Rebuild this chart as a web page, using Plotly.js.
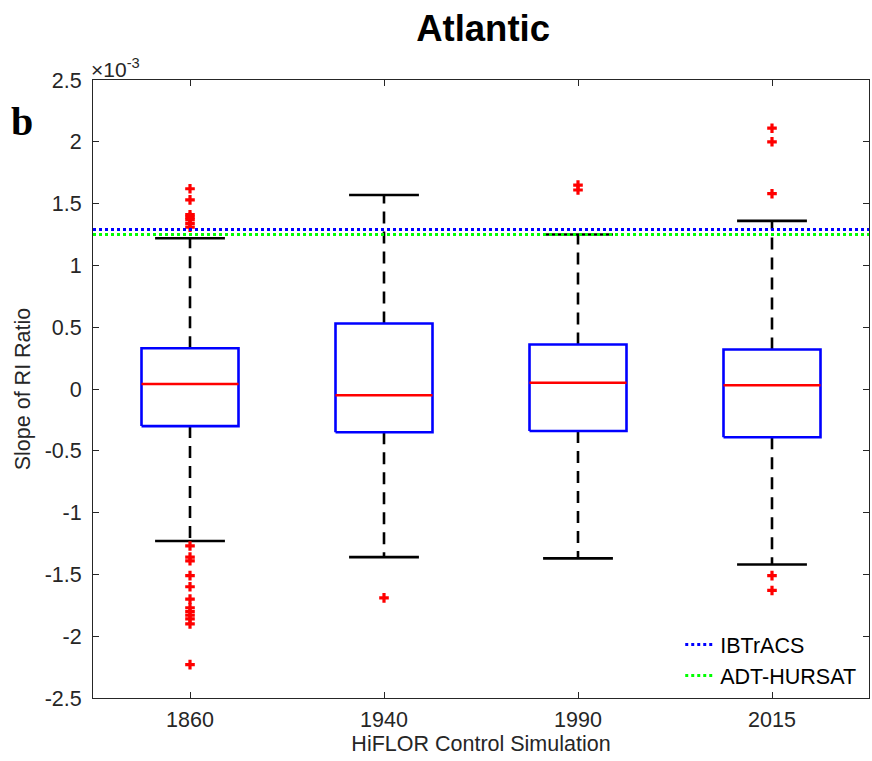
<!DOCTYPE html>
<html>
<head>
<meta charset="utf-8">
<script src="https://cdn.plot.ly/plotly-3.0.1.min.js"></script>
<style>
  html, body { margin: 0; padding: 0; background: #fff; }
  #chart { width: 872px; height: 761px; }
</style>
</head>
<body>
<div id="chart"></div>
<script>
// Simulation years (control runs)
const years = ['1860', '1940', '1990', '2015'];

// Box statistics of the RI-ratio slope (units of 1e-3)
const q1 = [-0.30, -0.35, -0.34, -0.39];
const medians = [0.04, -0.05, 0.05, 0.03];
const q3 = [0.33, 0.53, 0.36, 0.32];
const whiskerLow = [-1.23, -1.36, -1.37, -1.42];
const whiskerHigh = [1.22, 1.57, 1.25, 1.36];

// Outliers for each simulation year
const outliers1860 = [1.62, 1.53, 1.41, 1.39, 1.37, 1.34, 1.31,
  -1.27, -1.36, -1.39, -1.51, -1.60, -1.70, -1.77, -1.80, -1.83, -1.86, -1.90, -2.23];
const outliers1940 = [-1.69];
const outliers1990 = [1.65, 1.61];
const outliers2015 = [2.11, 2.00, 1.58, -1.51, -1.63];

// Observational reference slopes
const ibtracsSlope = 1.29;
const adtHursatSlope = 1.25;

const boxHalf = 0.25;
const capHalf = 0.18;
const traces = [];

years.forEach((yr, k) => {
  const i = k + 1;
  // dashed whiskers
  traces.push({
    x: [i, i, null, i, i],
    y: [q3[k], whiskerHigh[k], null, q1[k], whiskerLow[k]],
    mode: 'lines', type: 'scatter', showlegend: false, hoverinfo: 'skip',
    line: {color: '#000', width: 2.6, dash: '12px,8px'}
  });
  // whisker caps
  traces.push({
    x: [i - capHalf, i + capHalf, null, i - capHalf, i + capHalf],
    y: [whiskerHigh[k], whiskerHigh[k], null, whiskerLow[k], whiskerLow[k]],
    mode: 'lines', type: 'scatter', showlegend: false, hoverinfo: 'skip',
    line: {color: '#000', width: 2.6}
  });
  // box outline
  traces.push({
    x: [i - boxHalf, i + boxHalf, i + boxHalf, i - boxHalf, i - boxHalf],
    y: [q1[k], q1[k], q3[k], q3[k], q1[k]],
    mode: 'lines', type: 'scatter', showlegend: false, hoverinfo: 'skip',
    line: {color: '#0000ff', width: 2.6}
  });
  // median
  traces.push({
    x: [i - boxHalf, i + boxHalf],
    y: [medians[k], medians[k]],
    mode: 'lines', type: 'scatter', showlegend: false, hoverinfo: 'skip',
    line: {color: '#ff0000', width: 2.6}
  });
});

// outlier markers
[outliers1860, outliers1940, outliers1990, outliers2015].forEach((vals, k) => {
  traces.push({
    x: vals.map(() => k + 1),
    y: vals,
    mode: 'markers', type: 'scatter', showlegend: false,
    marker: {symbol: 'cross', color: '#ff0000', size: 8, line: {width: 0}}
  });
});

// reference lines
traces.push({
  x: [0.5, 4.5], y: [ibtracsSlope, ibtracsSlope],
  mode: 'lines', type: 'scatter', name: 'IBTrACS',
  line: {color: '#0000ff', width: 3, dash: 'dot'}
});
traces.push({
  x: [0.5, 4.5], y: [adtHursatSlope, adtHursatSlope],
  mode: 'lines', type: 'scatter', name: 'ADT-HURSAT',
  line: {color: '#00ff00', width: 3, dash: 'dot'}
});

const yTicks = [-2.5, -2, -1.5, -1, -0.5, 0, 0.5, 1, 1.5, 2, 2.5];
const sans = 'Liberation Sans, Arial, Helvetica, sans-serif';
const axisFont = {family: sans, size: 21.5, color: '#262626'};

const layout = {
  width: 872, height: 761,
  paper_bgcolor: '#fff', plot_bgcolor: '#fff',
  margin: {l: 93, r: 3, t: 80, b: 63},
  title: {
    text: '<b>Atlantic</b>',
    font: {family: sans, size: 36.5, color: '#000'},
    x: 0.554, xanchor: 'center', y: 0.963, yanchor: 'middle'
  },
  xaxis: {
    range: [0.5, 4.5],
    tickvals: [1, 2, 3, 4], ticktext: years,
    ticks: 'inside', ticklen: 6, tickcolor: '#262626', tickwidth: 1,
    showline: true, linecolor: '#262626', linewidth: 1, mirror: 'ticks',
    showgrid: false, zeroline: false, automargin: false,
    tickfont: axisFont, ticklabelstandoff: 2,
    title: {text: 'HiFLOR Control Simulation', font: axisFont, standoff: 4}
  },
  yaxis: {
    range: [-2.5, 2.5],
    tickvals: yTicks, ticktext: yTicks.map(v => String(v)),
    ticks: 'inside', ticklen: 6, tickcolor: '#262626', tickwidth: 1,
    showline: true, linecolor: '#262626', linewidth: 1, mirror: 'ticks',
    showgrid: false, zeroline: false, automargin: false,
    tickfont: axisFont, ticklabelstandoff: 6,
    title: {text: 'Slope of RI Ratio', font: axisFont, standoff: 8}
  },
  legend: {
    x: 0.99, xanchor: 'right', y: 0.003, yanchor: 'bottom',
    bgcolor: 'rgba(255,255,255,0)', borderwidth: 0,
    font: {family: sans, size: 21.5, color: '#000'},
    itemwidth: 30, tracegroupgap: 0
  },
  annotations: [
    {
      text: '×10<sup>-3</sup>', xref: 'paper', yref: 'paper', x: 0, y: 1,
      xanchor: 'left', yanchor: 'bottom', showarrow: false, xshift: -4, yshift: -3,
      font: {family: sans, size: 21, color: '#262626'}
    },
    {
      text: '<b>b</b>', xref: 'paper', yref: 'paper', x: 0, y: 1,
      xanchor: 'left', yanchor: 'middle', showarrow: false, xshift: -84, yshift: -41,
      font: {family: 'Liberation Serif, Times New Roman, serif', size: 40, color: '#000'}
    }
  ],
  showlegend: true
};

Plotly.newPlot('chart', traces, layout, {displayModeBar: false, staticPlot: true});
</script>
</body>
</html>
